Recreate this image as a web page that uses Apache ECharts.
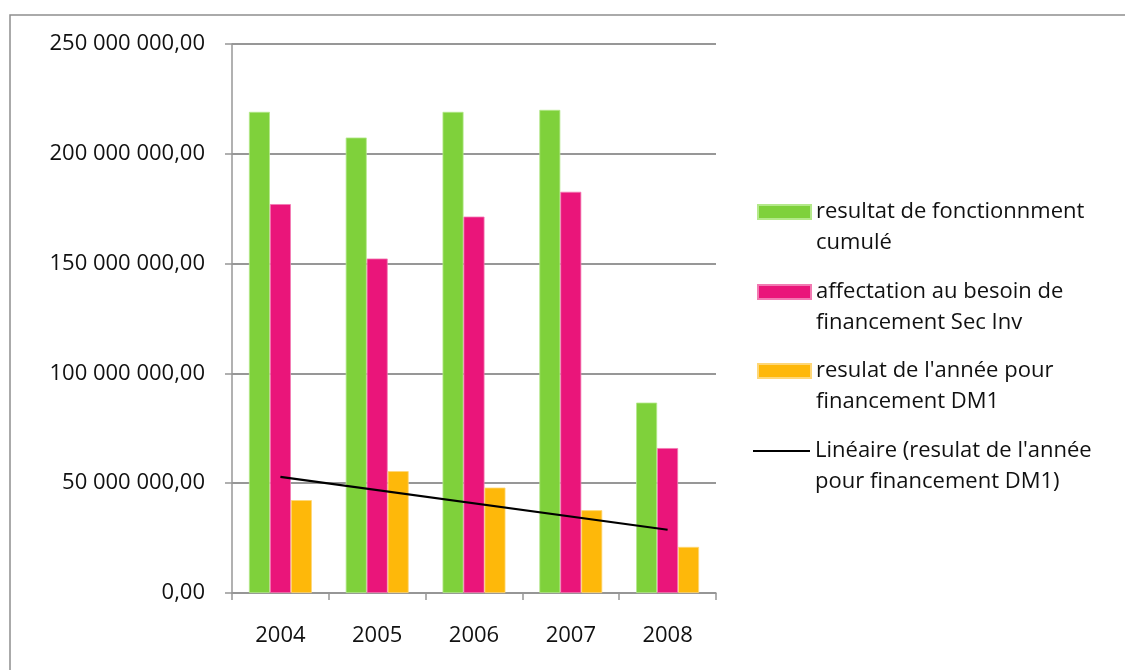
<!DOCTYPE html>
<html>
<head>
<meta charset="utf-8">
<script src="https://cdn.jsdelivr.net/npm/echarts@6/dist/echarts.min.js"></script>
<style>
  html, body { margin: 0; padding: 0; background: #fff; }
  #main { width: 1125px; height: 670px; }
</style>
</head>
<body>
<div id="main"></div>
<script>
// données
const years = ['2004', '2005', '2006', '2007', '2008'];
const resultatCumule = [219100000, 207400000, 219100000, 220000000, 86700000];
const affectationSecInv = [177100000, 152300000, 171400000, 182700000, 66000000];
const resultatAnnee = [42300000, 55500000, 48000000, 37700000, 21000000];
// courbe de tendance : seulement les deux extrémités
const tendance = [52900000, null, null, null, 28800000];

const seriesNames = [
  'resultat de fonctionnment\ncumulé',
  'affectation au besoin de\nfinancement Sec Inv',
  'resulat de l\'année pour\nfinancement DM1',
  'Linéaire (resulat de l\'année\npour financement DM1)'
];
const colors = ['#7FD13B', '#EA157A', '#FEB80A', '#000000'];

const font = 'Open Sans';
const gridColor = '#979797';

function formatNombre (v) {
  const s = Math.round(v).toString().replace(/\B(?=(\d{3})+(?!\d))/g, ' ');
  return s + ',00';
}

const chart = echarts.init(document.getElementById('main'));

// une légende par série ; la ligne vide en tête aligne l'icône sur la 1re ligne
const iconCenters = [212, 292, 371, 451];
const lineH = 31;
const legends = seriesNames.map((name, i) => {
  const isLine = i === 3;
  const h = isLine ? 2 : 14;
  return {
    data: [isLine ? { name: name, icon: 'rect', itemStyle: { color: '#000' } } : { name: name, icon: 'rect' }],
    left: isLine ? 753 : 757,
    top: iconCenters[i] - lineH * 1.5,
    padding: 0,
    orient: 'vertical',
    itemWidth: isLine ? 57 : 53,
    itemHeight: h,
    itemGap: 0,
    selectedMode: false,
    formatter: n => '\n' + n,
    textStyle: {
      fontFamily: font,
      fontSize: 22,
      color: '#111',
      lineHeight: lineH
    }
  };
});

const option = {
  animation: false,
  backgroundColor: '#fff',
  color: colors,
  textStyle: { fontFamily: font },
  graphic: [{
    type: 'rect',
    shape: { x: 10, y: 15, width: 1130, height: 680 },
    style: { fill: 'none', stroke: '#8e8e8e', lineWidth: 1.5 },
    silent: true
  }],
  legend: legends,
  grid: {
    left: 232,
    right: 409,
    top: 44,
    bottom: 77,
    containLabel: false
  },
  xAxis: {
    type: 'category',
    data: years,
    axisLine: { lineStyle: { color: gridColor, width: 1.5 } },
    axisTick: { show: true, length: 7, lineStyle: { color: gridColor, width: 1.5 } },
    axisLabel: { margin: 32, fontSize: 22, color: '#111', fontFamily: font },
    splitLine: { show: false }
  },
  yAxis: {
    type: 'value',
    min: 0,
    max: 250000000,
    interval: 50000000,
    axisLine: { show: true, lineStyle: { color: gridColor, width: 1.5 } },
    axisTick: { show: true, length: 7, lineStyle: { color: gridColor, width: 1.5 } },
    axisLabel: {
      margin: 27,
      fontSize: 22,
      color: '#111',
      fontFamily: font,
      formatter: formatNombre
    },
    splitLine: { lineStyle: { color: gridColor, width: 2 } }
  },
  series: [
    {
      name: seriesNames[0],
      type: 'bar',
      data: resultatCumule,
      barGap: '0%',
      barCategoryGap: '35%',
      itemStyle: { color: colors[0], borderColor: '#b4e98a', borderWidth: 0.8 }
    },
    {
      name: seriesNames[1],
      type: 'bar',
      data: affectationSecInv,
      itemStyle: { color: colors[1], borderColor: '#f27ab2', borderWidth: 0.8 }
    },
    {
      name: seriesNames[2],
      type: 'bar',
      data: resultatAnnee,
      itemStyle: { color: colors[2], borderColor: '#fed778', borderWidth: 0.8 }
    },
    {
      name: seriesNames[3],
      type: 'line',
      data: tendance,
      connectNulls: true,
      showSymbol: false,
      symbol: 'none',
      z: 5,
      lineStyle: { color: '#000', width: 2.2 },
      itemStyle: { color: '#000' }
    }
  ]
};

chart.setOption(option);
</script>
</body>
</html>
